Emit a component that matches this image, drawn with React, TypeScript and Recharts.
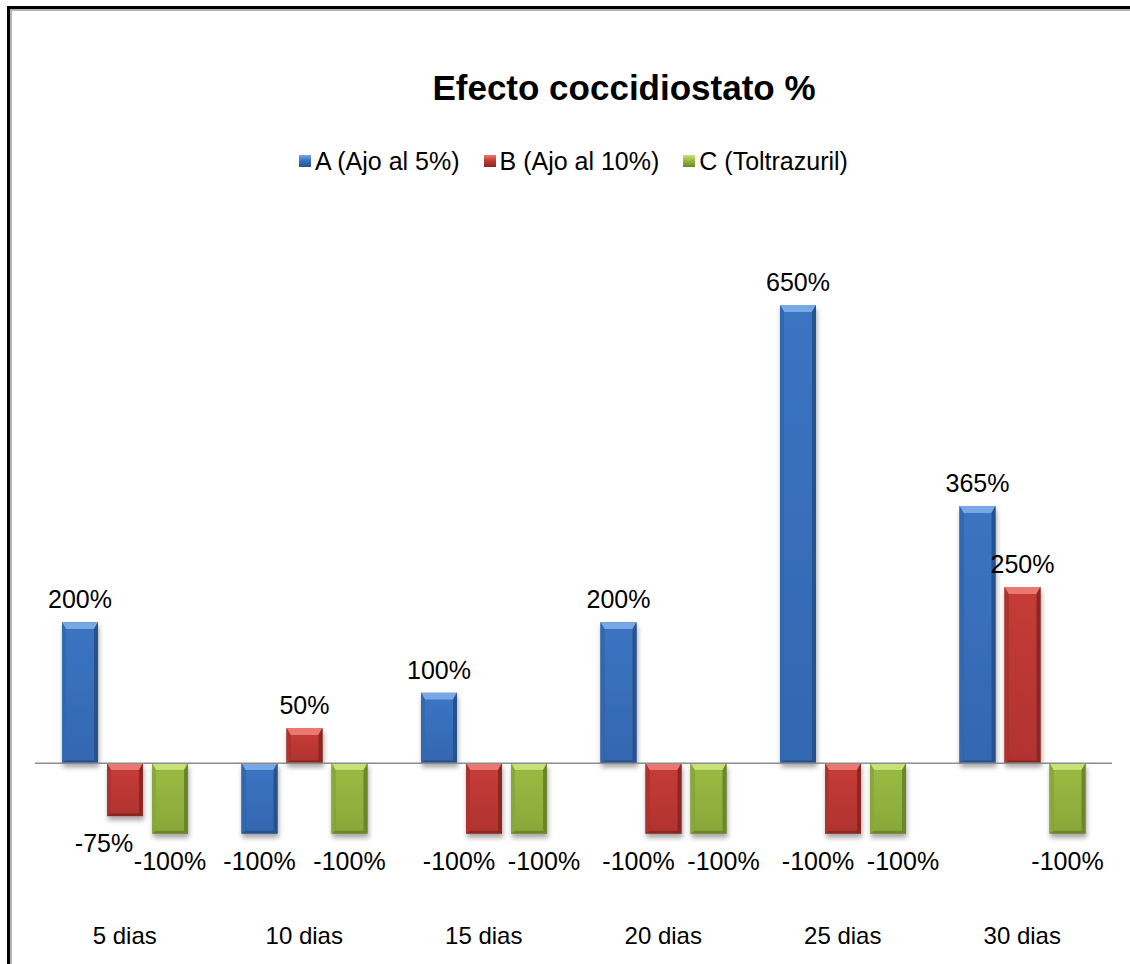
import React from 'react';
import { BarChart, Bar, XAxis, YAxis, ReferenceLine, LabelList } from 'recharts';

const categories = ['5 dias', '10 dias', '15 dias', '20 dias', '25 dias', '30 dias'];
const seriesA = [200, -100, 100, 200, 650, 365];
const seriesB = [-75, 50, -100, -100, -100, 250];
const seriesC = [-100, -100, -100, -100, -100, -100];
const seriesNames = ['A (Ajo al 5%)', 'B (Ajo al 10%)', 'C (Toltrazuril)'];

const FONT = '"Liberation Sans", Arial, sans-serif';

const PALETTE = [
  { base: '#3b74c2', light: '#78a9e6', side: '#3367b0', dark: '#27528e' },
  { base: '#c53b37', light: '#ea7772', side: '#b0332f', dark: '#8c2723' },
  { base: '#99ba42', light: '#c6e177', side: '#89a83a', dark: '#6c8629' },
];

const data = categories.map((name, i) => ({
  name,
  a: seriesA[i],
  b: seriesB[i],
  c: seriesC[i],
}));

const makeShape = (idx: number) => (props: any) => {
  const pal = PALETTE[idx];
  const { x, y, width, height } = props;
  const top = Math.min(y, y + height);
  const h = Math.abs(height);
  const w = width;
  if (!h) return null;
  const bt = Math.min(7, h / 2);
  const bs = Math.min(4, w / 2);
  const bb = Math.min(3, h / 2);
  const r = x + w;
  const btm = top + h;
  return (
    <g filter="url(#barShadow)">
      <rect x={x} y={top} width={w} height={h} fill={pal.dark} />
      <polygon points={`${x},${top} ${r},${top} ${r - bs},${top + bt} ${x + bs},${top + bt}`} fill={pal.light} />
      <polygon points={`${x},${top} ${x + bs},${top + bt} ${x + bs},${btm - bb} ${x},${btm}`} fill={pal.side} />
      <polygon points={`${r},${top} ${r - bs},${top + bt} ${r - bs},${btm - bb} ${r},${btm}`} fill={pal.dark} />
      <rect x={x + bs} y={top + bt} width={Math.max(0, w - 2 * bs)} height={Math.max(0, h - bt - bb)} fill={`url(#face${idx})`} />
    </g>
  );
};

// labels of neighbouring negative bars (B and C) are pulled apart so they don't collide
const labelShift = (series: number, i: number) => {
  const b = seriesB[i];
  const c = seriesC[i];
  if (b >= 0 || c >= 0) return 0;
  if (series === 1) return b === c ? -25 : -21;
  if (series === 2) return b === c ? 15 : 0;
  return 0;
};

const makeLabel = (series: number) => (props: any) => {
  const vb = props.viewBox ?? props;
  const { x, y, width, height } = vb;
  const value = Number(props.value);
  const top = Math.min(y, y + height);
  const bottom = Math.max(y, y + height);
  const cx = x + width / 2 + labelShift(series, props.index);
  const ty = value >= 0 ? top - 14 : bottom + 36;
  return (
    <text x={cx} y={ty} textAnchor="middle" fontSize={25} fill="#000" fontFamily={FONT}>
      {`${value}%`}
    </text>
  );
};

const CategoryTick = (props: any) => {
  const { x, y, payload } = props;
  return (
    <text x={x} y={y + 18} textAnchor="middle" fontSize={24} fill="#000" fontFamily={FONT}>
      {payload.value}
    </text>
  );
};

const LegendMarker = ({ idx }: { idx: number }) => {
  const pal = PALETTE[idx];
  return (
    <span
      style={{
        display: 'inline-block',
        width: 12,
        height: 12,
        marginRight: 4,
        background: `linear-gradient(180deg, ${pal.light} 0%, ${pal.base} 45%, ${pal.dark} 100%)`,
      }}
    />
  );
};

export default function App() {
  return (
    <div style={{ position: 'absolute', left: 0, top: 0, width: 1130, height: 964, overflow: 'hidden', background: '#fff' }}>
      <div
        style={{
          position: 'absolute',
          left: 7,
          top: 6,
          width: 1300,
          height: 1100,
          borderTop: '3px solid #000',
          borderLeft: '3px solid #000',
        }}
      >
        <div style={{ width: '100%', height: '100%', borderTop: '2px solid #b4b4b4', borderLeft: '2px solid #b4b4b4' }} />
      </div>

      <div
        style={{
          position: 'absolute',
          left: 324,
          top: 68,
          width: 600,
          textAlign: 'center',
          fontFamily: FONT,
          fontWeight: 'bold',
          fontSize: 35,
          lineHeight: '40px',
          color: '#000',
        }}
      >
        Efecto coccidiostato %
      </div>

      <div
        style={{
          position: 'absolute',
          left: 299,
          top: 146,
          display: 'flex',
          alignItems: 'center',
          fontFamily: FONT,
          fontSize: 25,
          lineHeight: '30px',
          color: '#000',
          whiteSpace: 'nowrap',
        }}
      >
        {seriesNames.map((n, i) => (
          <span key={n} style={{ display: 'flex', alignItems: 'center', marginRight: 24 }}>
            <LegendMarker idx={i} />
            {n}
          </span>
        ))}
      </div>

      <div style={{ position: 'absolute', left: 0, top: 0 }}>
        <BarChart
          width={1130}
          height={964}
          data={data}
          margin={{ top: 269.8, right: 18, bottom: 5.6, left: 35 }}
          barSize={36}
          barGap={9}
        >
          <defs>
            <filter id="barShadow" x="-40%" y="-20%" width="180%" height="140%">
              <feDropShadow dx="1" dy="4" stdDeviation="2.5" floodColor="#000" floodOpacity="0.35" />
            </filter>
            {PALETTE.map((p, i) => (
              <linearGradient key={i} id={`face${i}`} x1="0" y1="0" x2="0" y2="1">
                <stop offset="0%" stopColor={p.base} />
                <stop offset="100%" stopColor={p.side} />
              </linearGradient>
            ))}
          </defs>
          <XAxis dataKey="name" axisLine={false} tickLine={false} height={40} tick={<CategoryTick />} interval={0} />
          <YAxis hide domain={[-220, 700]} />
          <ReferenceLine y={0} stroke="#8c8c8c" strokeWidth={1.5} />
          <Bar dataKey="a" name={seriesNames[0]} fill={PALETTE[0].base} shape={makeShape(0)} isAnimationActive={false}>
            <LabelList dataKey="a" content={makeLabel(0)} />
          </Bar>
          <Bar dataKey="b" name={seriesNames[1]} fill={PALETTE[1].base} shape={makeShape(1)} isAnimationActive={false}>
            <LabelList dataKey="b" content={makeLabel(1)} />
          </Bar>
          <Bar dataKey="c" name={seriesNames[2]} fill={PALETTE[2].base} shape={makeShape(2)} isAnimationActive={false}>
            <LabelList dataKey="c" content={makeLabel(2)} />
          </Bar>
        </BarChart>
      </div>
    </div>
  );
}
